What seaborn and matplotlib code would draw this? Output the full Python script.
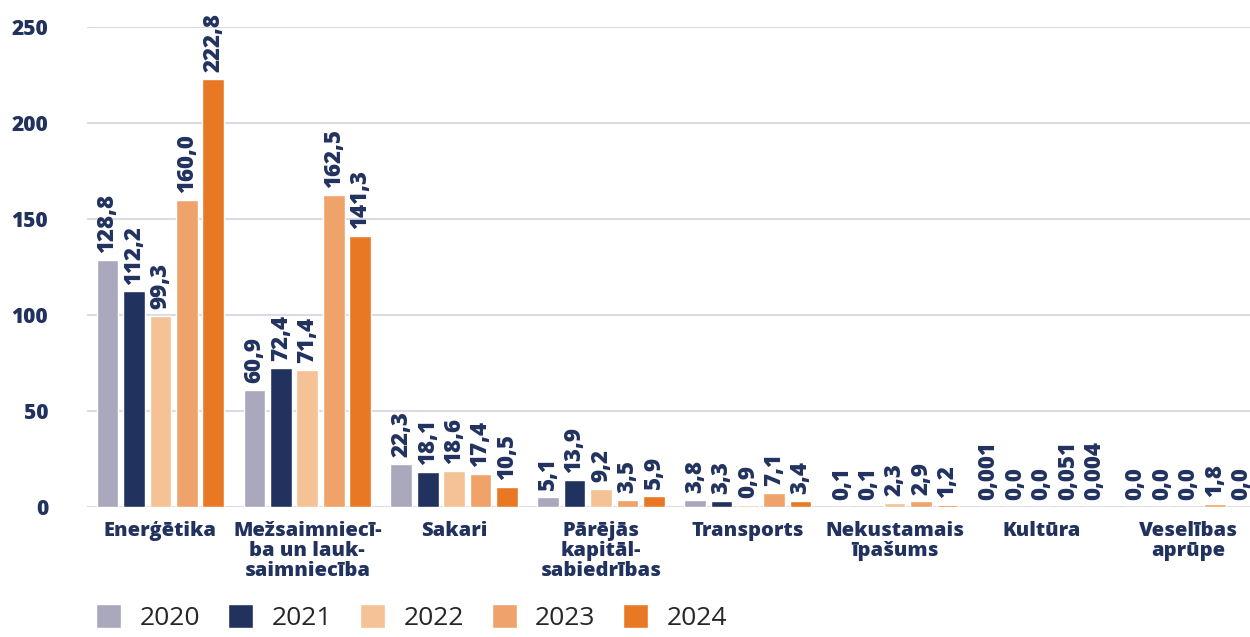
import pandas as pd
import seaborn as sns
import matplotlib.pyplot as plt
from matplotlib.patches import Patch

categories = ['Enerģētika', 'Mežsaimniecī-\nba un lauk-\nsaimniecība', 'Sakari',
              'Pārējās\nkapitāl-\nsabiedrības', 'Transports', 'Nekustamais\nīpašums',
              'Kultūra', 'Veselības\naprūpe']
years = ['2020', '2021', '2022', '2023', '2024']
v2020 = [128.8, 60.9, 22.3, 5.1, 3.8, 0.1, 0.001, 0.0]
v2021 = [112.2, 72.4, 18.1, 13.9, 3.3, 0.1, 0.0, 0.0]
v2022 = [99.3, 71.4, 18.6, 9.2, 0.9, 2.3, 0.0, 0.0]
v2023 = [160.0, 162.5, 17.4, 3.5, 7.1, 2.9, 0.051, 1.8]
v2024 = [222.8, 141.3, 10.5, 5.9, 3.4, 1.2, 0.004, 0.0]
colors = ['#A9A8BC', '#22325F', '#F5C295', '#EFA36B', '#E87824']
navy = '#22325F'

rows = []
for year, vals in zip(years, [v2020, v2021, v2022, v2023, v2024]):
    for cat, v in zip(categories, vals):
        rows.append({'cat': cat, 'year': year, 'value': v})
df = pd.DataFrame(rows)

sns.set_style('white')
plt.rcParams['font.family'] = ['Open Sans', 'DejaVu Sans']

fig = plt.figure(figsize=(12.5, 6.37), dpi=100)
ax = fig.add_axes([0.0696, 0.204, 0.9304, 0.754])

sns.barplot(data=df, x='cat', y='value', hue='year', palette=colors,
            width=0.9, gap=0.18, saturation=1, legend=False, ax=ax)


def fmt(v):
    # tiny values keep three decimals, the rest one, with a decimal comma
    if 0 < v < 0.06:
        return f'{v:.3f}'.replace('.', ',')
    return f'{v:.1f}'.replace('.', ',')


for cont, vals in zip(ax.containers, [v2020, v2021, v2022, v2023, v2024]):
    ax.bar_label(cont, labels=[fmt(v) for v in vals], rotation=90, padding=5,
                 fontsize=16, fontweight='heavy', color=navy, clip_on=False)

ax.set_ylim(0, 250)
ax.set_xlim(-0.5, 7.42)
ax.set_yticks([0, 50, 100, 150, 200, 250])
ax.yaxis.grid(True, color='#DCDBE5', linewidth=1.5)
ax.set_axisbelow(True)
for s in ax.spines.values():
    s.set_visible(False)
ax.tick_params(axis='y', length=0, pad=28, labelsize=15, labelcolor=navy)
ax.tick_params(axis='x', length=0, pad=10, labelsize=14.5, labelcolor=navy)
for lab in ax.get_yticklabels() + ax.get_xticklabels():
    lab.set_fontweight('heavy')
for lab in ax.get_xticklabels():
    lab.set_linespacing(1.0)
ax.set_xlabel('')
ax.set_ylabel('')

handles = [Patch(facecolor=c, label=y) for c, y in zip(colors, years)]
fig.legend(handles=handles, loc='lower left', bbox_to_anchor=(0.058, -0.028), ncol=5,
           frameon=False, fontsize=19, handlelength=0.95, handleheight=1.0,
           handletextpad=0.7, columnspacing=1.05)

fig.savefig('out.png', dpi=100)
